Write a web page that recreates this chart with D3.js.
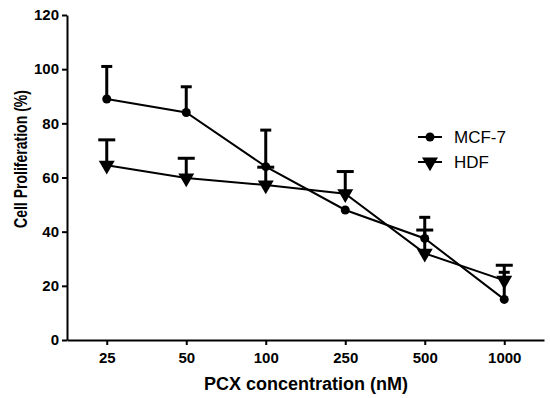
<!DOCTYPE html>
<html>
<head>
<meta charset="utf-8">
<script src="https://cdn.jsdelivr.net/npm/d3@7"></script>
<style>
  body { margin: 0; background: #fff; }
  svg text { font-family: Arial, "Liberation Sans", sans-serif; }
</style>
</head>
<body>
<svg id="chart" width="550" height="398"></svg>
<script>
// data
var concentrations = ["25", "50", "100", "250", "500", "1000"];
var mcfMean = [89, 84, 64, 48, 37.5, 15];
var mcfErr = [12, 9.5, 13.5, 0, 7.8, 10];
var hdfMean = [64.5, 59.8, 57.2, 54, 32, 22];
var hdfErr = [9.4, 7.3, 6.6, 8.2, 8.6, 5.6];
var yTicks = [0, 20, 40, 60, 80, 100, 120];

var svg = d3.select("#chart");
var plotLeft = 67, plotRight = 544, plotTop = 15, plotBottom = 340;

var x = d3.scalePoint()
  .domain(concentrations)
  .range([plotLeft, plotRight])
  .padding(0.5);

var y = d3.scaleLinear()
  .domain([0, 120])
  .range([plotBottom, plotTop]);

/* Axes */
var yAxis = d3.axisLeft(y).tickValues(yTicks).tickSize(5).tickPadding(3).tickSizeOuter(0);
var gy = svg.append("g").attr("transform", "translate(" + plotLeft + ",0)").call(yAxis);
gy.selectAll("text").style("font-size", "15px").style("font-weight", "bold").attr("fill", "#000");

var xAxis = d3.axisBottom(x).tickSize(5).tickPadding(7).tickSizeOuter(0);
var gx = svg.append("g").attr("transform", "translate(0," + plotBottom + ")").call(xAxis);
gx.selectAll("text").style("font-size", "15px").style("font-weight", "bold").attr("fill", "#000");

svg.selectAll(".domain, .tick line").attr("stroke", "#000").attr("stroke-width", 2);

// the figure is squeezed vertically, so the rotated title is shortened along its length
svg.append("text")
  .attr("transform", "translate(27,159) rotate(-90) scale(0.78,1)")
  .attr("text-anchor", "middle")
  .style("font-size", "18px").style("font-weight", "bold")
  .text("Cell Proliferation (%)");

svg.append("text")
  .attr("x", 306).attr("y", 390)
  .attr("text-anchor", "middle")
  .style("font-size", "18px").style("font-weight", "bold")
  .text("PCX concentration (nM)");

/* Series */
var series = [
  { name: "MCF-7", mean: mcfMean, err: mcfErr, marker: "circle", cap: 11 },
  { name: "HDF", mean: hdfMean, err: hdfErr, marker: "triangle", cap: 17 }
];

var line = d3.line()
  .x(function (d, i) { return x(concentrations[i]); })
  .y(function (d) { return y(d); });

var tri = d3.symbol().type(d3.symbolTriangle).size(110);

function drawMarker(g, s, cx, cy) {
  if (s.marker === "circle") {
    g.append("circle").attr("cx", cx).attr("cy", cy).attr("r", 4.5).attr("fill", "#000");
  } else {
    g.append("path").attr("d", tri)
      .attr("transform", "translate(" + cx + "," + cy + ") rotate(180)")
      .attr("fill", "#000");
  }
}

series.forEach(function (s) {
  var g = svg.append("g");
  // error bars (upper only)
  s.mean.forEach(function (m, i) {
    if (!s.err[i]) return;
    var cx = x(concentrations[i]);
    g.append("line").attr("x1", cx).attr("x2", cx)
      .attr("y1", y(m)).attr("y2", y(m + s.err[i]))
      .attr("stroke", "#000").attr("stroke-width", 3);
    g.append("line").attr("x1", cx - s.cap / 2).attr("x2", cx + s.cap / 2)
      .attr("y1", y(m + s.err[i])).attr("y2", y(m + s.err[i]))
      .attr("stroke", "#000").attr("stroke-width", 3);
  });
  g.append("path").datum(s.mean)
    .attr("d", line).attr("fill", "none")
    .attr("stroke", "#000").attr("stroke-width", 2);
  s.mean.forEach(function (m, i) {
    drawMarker(g, s, x(concentrations[i]), y(m));
  });
});

/* Legend */
series.forEach(function (s, i) {
  var ly = 137 + i * 25;
  var g = svg.append("g");
  g.append("line").attr("x1", 418).attr("x2", 442).attr("y1", ly).attr("y2", ly)
    .attr("stroke", "#000").attr("stroke-width", 2);
  drawMarker(g, s, 430, ly);
  g.append("text").attr("x", 454).attr("y", ly + 6)
    .style("font-size", "17px")
    .text(s.name);
});
</script>
</body>
</html>
